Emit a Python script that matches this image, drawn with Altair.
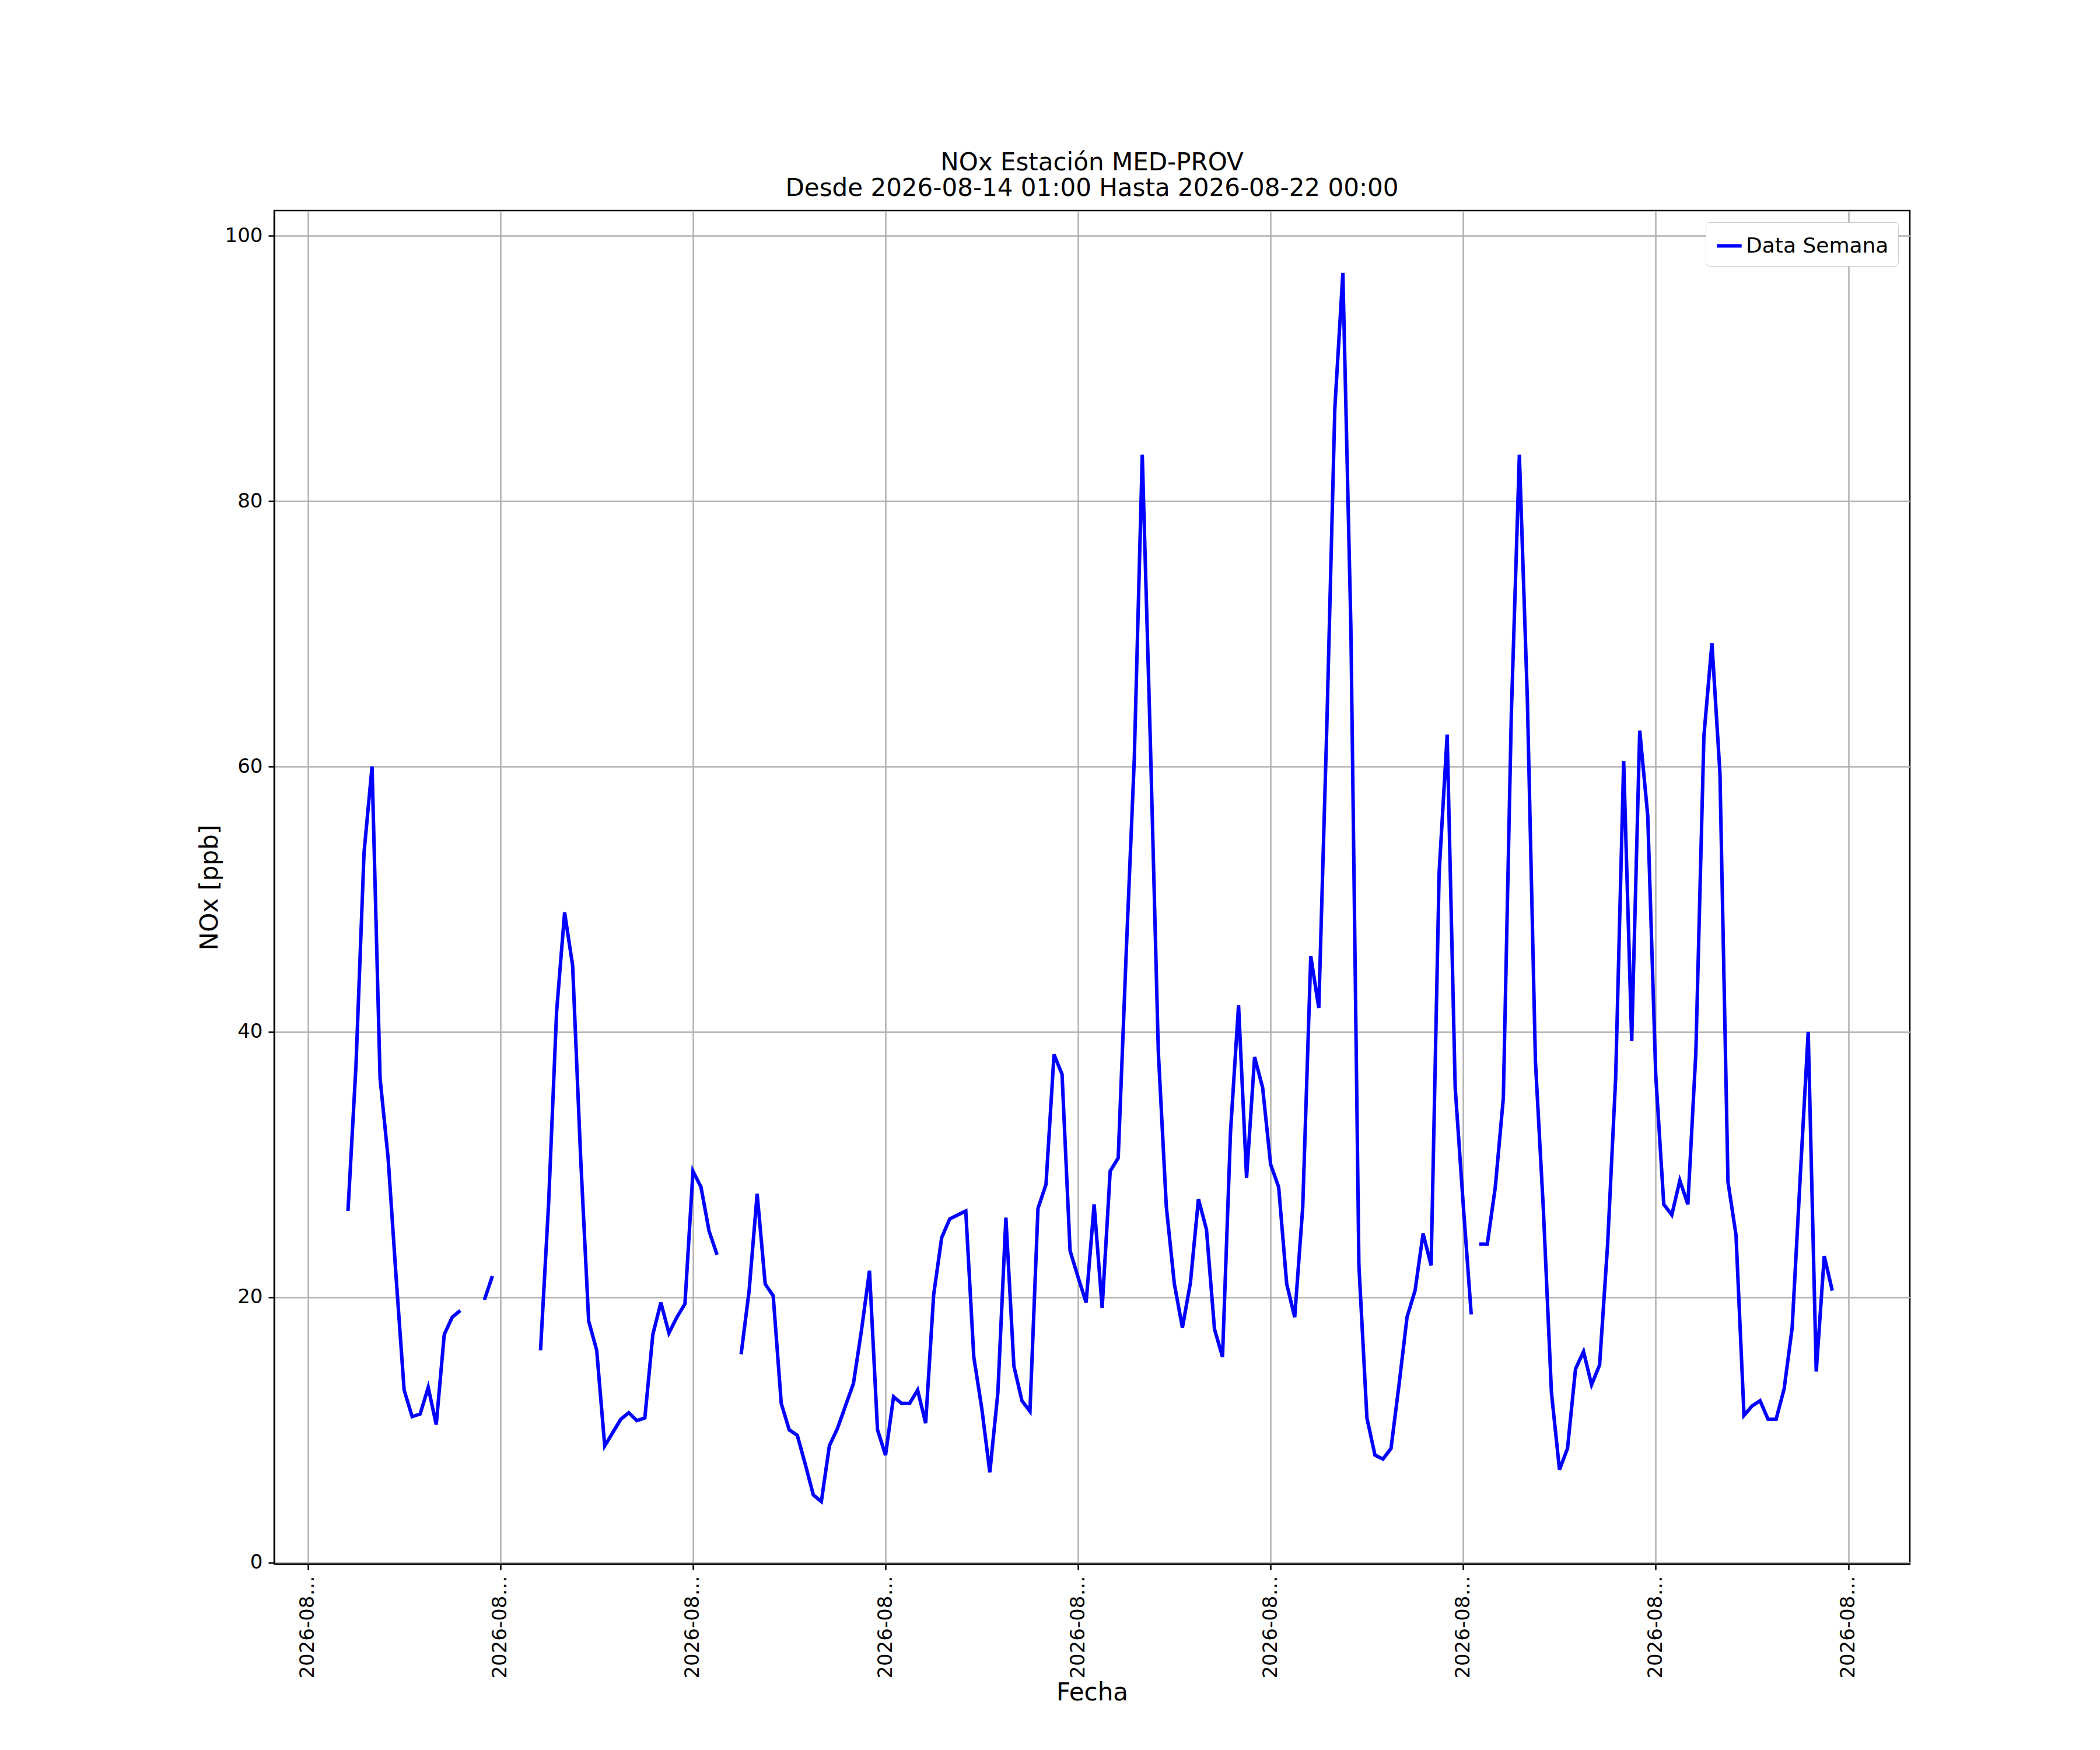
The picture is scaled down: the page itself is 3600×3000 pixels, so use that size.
import altair as alt
import pandas as pd

# hourly NOx readings per unbroken stretch: (first hour after 2026-08-14 00:00, values)
seg1_start = 5
seg1 = [26.5, 37.5, 53.5, 60, 36.5, 30.5, 21.5, 13, 11, 11.2, 13.2, 10.4, 17.2, 18.5, 19]
seg2_start = 22
seg2 = [19.8, 21.6]
seg3_start = 29
seg3 = [16, 27, 41.5, 49, 45, 30.5, 18.2, 16, 8.8, 9.8, 10.8, 11.3, 10.7, 10.9, 17.2,
        19.6, 17.3, 18.5, 19.5, 29.5, 28.3, 25, 23.2]
seg4_start = 54
seg4 = [15.7, 20.5, 27.8, 21, 20.1, 12, 10, 9.6, 7.4, 5.1, 4.6, 8.8, 10.1, 11.8, 13.5,
        17.5, 22, 10, 8.1, 12.5, 12, 12, 13, 10.5, 20.2, 24.5, 25.9, 26.2, 26.5, 15.5,
        11.6, 6.8, 12.8, 26, 14.8, 12.2, 11.4, 26.7, 28.5, 38.3, 36.8, 23.5, 21.5, 19.6,
        27, 19.2, 29.5, 30.5, 46, 60.5, 83.5, 62, 38.5, 26.8, 21, 17.7, 21.1, 27.4, 25.1,
        17.6, 15.5, 32.5, 42, 29, 38.1, 35.8, 30, 28.3, 21, 18.5, 26.8, 45.7, 41.8, 63,
        87, 97.2, 70.5, 22.4, 10.9, 8.1, 7.8, 8.6, 13.4, 18.5, 20.5, 24.8, 22.4, 52,
        62.4, 35.8, 27, 18.7]
seg5_start = 146
seg5 = [24, 24, 28.3, 35, 64, 83.5, 65, 37.8, 26.5, 12.8, 7, 8.6, 14.6, 15.9, 13.4,
        14.9, 24, 36.5, 60.4, 39.3, 62.7, 56.3, 36.7, 27, 26.2, 28.8, 27, 38.5, 62.3,
        69.3, 59.5, 28.7, 24.7, 11.1, 11.8, 12.2, 10.8, 10.8, 13.1, 17.7, 29, 40, 14.4,
        23.1, 20.5]

base = pd.Timestamp("2026-08-14 00:00")
rows = []
for i, (start, vals) in enumerate([(seg1_start, seg1), (seg2_start, seg2), (seg3_start, seg3),
                                   (seg4_start, seg4), (seg5_start, seg5)]):
    for k, v in enumerate(vals):
        rows.append({"fecha": (base + pd.Timedelta(hours=start + k)).strftime("%Y-%m-%dT%H:%M:%S"),
                     "nox": v, "seg": i, "serie": "Data Semana"})
df = pd.DataFrame(rows)

day_ticks = [alt.DateTime(year=2026, month=8, date=d) for d in range(14, 23)]

chart = alt.Chart(df).mark_line(strokeWidth=6).encode(
    x=alt.X("fecha:T", title="Fecha",
            scale=alt.Scale(domain=[alt.DateTime(year=2026, month=8, date=13, hours=19, minutes=48),
                                    alt.DateTime(year=2026, month=8, date=22, hours=7, minutes=40)]),
            axis=alt.Axis(values=day_ticks, format="%Y-%m-%d", labelAngle=270,
                          labelAlign="right", labelBaseline="middle")),
    y=alt.Y("nox:Q", title="NOx [ppb]", scale=alt.Scale(domain=[-0.1, 101.9], nice=False),
            axis=alt.Axis(values=[0, 20, 40, 60, 80, 100])),
    color=alt.Color("serie:N", scale=alt.Scale(range=["#0000ff"]),
                    legend=alt.Legend(title=None, orient="top-right", strokeColor="#cccccc",
                                      fillColor="white", padding=16, cornerRadius=6,
                                      labelFontSize=36, labelLimit=0, symbolType="stroke",
                                      symbolStrokeWidth=6, symbolSize=1800, offset=20)),
    detail="seg:N",
).properties(
    width=2804, height=2320,
    padding={"left": 330, "top": 250, "right": 5, "bottom": 5},
    title=alt.Title(["NOx Estación MED-PROV", "Desde 2026-08-14 01:00 Hasta 2026-08-22 00:00"],
                    fontSize=42, fontWeight="normal", offset=16),
).configure(
    font="DejaVu Sans",
).configure_axis(
    grid=True, gridColor="#b0b0b0", gridWidth=2.5, domainColor="black", domainWidth=2.5,
    tickColor="black", tickWidth=2.5, tickSize=10, labelFontSize=34, labelColor="black",
    titleFontSize=42, titleFontWeight="normal", titleColor="black", labelPadding=10,
).configure_view(
    stroke="black", strokeWidth=2.5,
).configure_title(color="black")

chart.save("out.html", embed_options={"renderer": "svg", "actions": False})
